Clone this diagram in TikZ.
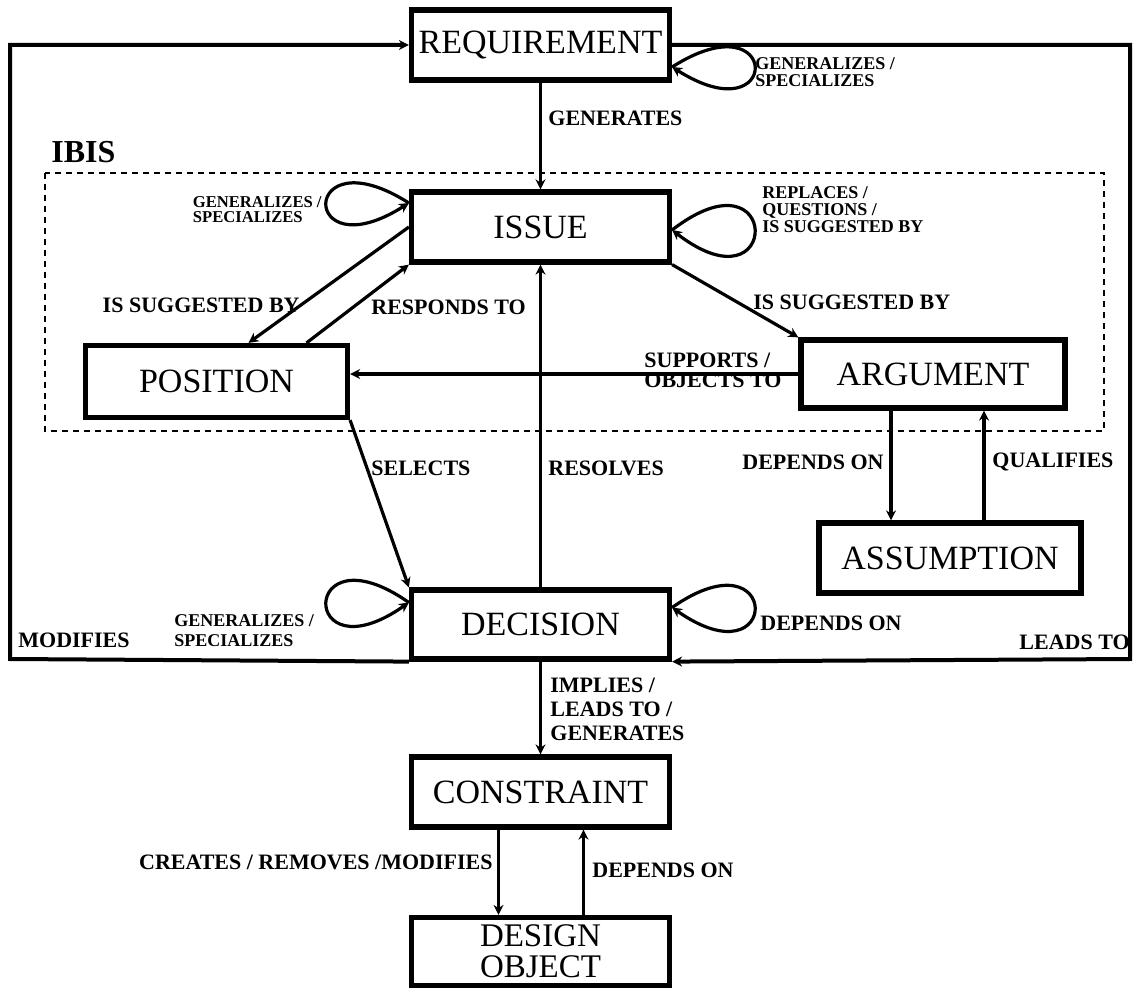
\documentclass[tikz,border=0pt]{standalone}
\usepackage{fontspec}
\setmainfont{Liberation Serif}
\usepackage{tikz}
\usetikzlibrary{arrows.meta,calc}
\tikzset{
  box/.style={draw,line width=2.6pt,minimum width=129pt,minimum height=35pt,inner sep=2pt,
    align=center,fill=white,font=\fontsize{17}{16}\selectfont},
  arr/.style={-{Stealth[length=5pt,width=5pt]},line width=1.6pt},
  lbl/.style={inner sep=0pt,align=left,font=\fontsize{11}{12}\selectfont\bfseries},
  lblsm/.style={inner sep=0pt,align=left,font=\fontsize{9}{8.5}\selectfont\bfseries},
  ibis/.style={line width=1.4pt,dash pattern=on 3pt off 2.5pt}
}

\begin{document}
\begin{tikzpicture}[x=0.5pt,y=-0.5pt]
  \useasboundingbox (0,0) rectangle (1135,989);
  \draw[ibis] (45,173) rectangle (1104,431);
  \node[lbl,anchor=west,font=\fontsize{16}{16}\selectfont\bfseries] (ibislbl) at (51,152) {IBIS};

  \node[box] (req) at (540.5,45) {REQUIREMENT};
  \node[box] (issue) at (540.5,227) {ISSUE};
  \node[box,minimum width=131pt,minimum height=36pt] (position) at (216.5,381.5) {POSITION};
  \node[box,minimum width=132pt,minimum height=34pt] (argument) at (933,374) {ARGUMENT};
  \node[box,minimum width=131pt] (assumption) at (950,558) {ASSUMPTION};
  \node[box,minimum height=34.5pt] (decision) at (540.5,624.5) {DECISION};
  \node[box] (constraint) at (540.5,792) {CONSTRAINT};
  \node[box,minimum height=34pt,inner sep=0.5pt,font=\fontsize{16.5}{15.5}\selectfont] (design) at (540.5,951.5) {DESIGN\\OBJECT};

  \coordinate (fl) at (10,659);
  \coordinate (fr) at (1130,659);
  \draw[arr,line width=2pt] (decision.south west) -- (fl) |- (req.west);
  \draw[arr,line width=2pt] (req.east) -| (fr) -- (decision.south east);

  \draw[arr] (req) -- (issue);
  \draw[arr] (issue.west) -- ([xshift=16pt]position.north);
  \draw[arr] ([xshift=45pt]position.north) -- (issue.south west);
  \draw[arr] (issue.south east) -- (argument.north west);
  \draw[arr] (argument.west) -- (argument.west -| position.east);
  \draw[arr] (position.south east) -- (decision.north west);
  \draw[arr] (decision) -- (issue);
  \draw[arr] ([xshift=-21pt]argument.south) -- ([xshift=-29.5pt]assumption.north);
  \draw[arr] ([xshift=17pt]assumption.north) -- ([xshift=25.5pt]argument.south);
  \draw[arr] (decision) -- (constraint);
  \draw[arr] ([xshift=-21pt]constraint.south) -- ([xshift=-21pt]design.north);
  \draw[arr] ([xshift=21.5pt]design.north) -- ([xshift=21.5pt]constraint.south);

  \draw[arr] ($(req.east)+(0,22)$) .. controls +(110,-70) and +(110,70) .. ($(req.east)+(0,22)$);
  \draw[arr] ($(issue.west)+(0,-24)$) .. controls +(-110,-70) and +(-110,70) .. ($(issue.west)+(0,-24)$);
  \draw[arr] ($(issue.east)+(0,3)$) .. controls +(110,-85) and +(110,85) .. ($(issue.east)+(0,3)$);
  \draw[arr] ($(decision.west)+(0,-22)$) .. controls +(-110,-77) and +(-110,77) .. ($(decision.west)+(0,-22)$);
  \draw[arr] ($(decision.east)+(0,-17)$) .. controls +(110,-77) and +(110,77) .. ($(decision.east)+(0,-17)$);

  \node[lblsm,anchor=west] (lreqloop) at (755,72) {GENERALIZES /\\SPECIALIZES};
  \node[lbl,anchor=west] (lgen) at (548,118) {GENERATES};
  \node[lblsm,anchor=east,font=\fontsize{8.3}{7.5}\selectfont\bfseries] (lissloop) at (322,210) {GENERALIZES /\\SPECIALIZES};
  \node[lblsm,anchor=west] (lrepl) at (762,210) {REPLACES /\\QUESTIONS /\\IS SUGGESTED BY};
  \node[lbl,anchor=east] (lsugg) at (300,305) {IS SUGGESTED BY};
  \node[lbl,anchor=west] (lresp) at (371,307) {RESPONDS TO};
  \node[lbl,anchor=west] (lsuggarg) at (753,302) {IS SUGGESTED BY};
  \node[lbl,anchor=west,font=\fontsize{11}{10}\selectfont\bfseries] (lsupp) at (644,370) {SUPPORTS /\\OBJECTS TO};
  \node[lbl,anchor=west] (lsel) at (371,468) {SELECTS};
  \node[lbl,anchor=west] (lres) at (548,468) {RESOLVES};
  \node[lbl,anchor=east] (ldep) at (884,462) {DEPENDS ON};
  \node[lbl,anchor=west] (lqual) at (992,462) {QUALIFIES};
  \node[lblsm,anchor=west,font=\fontsize{9}{10}\selectfont\bfseries] (ldecloop) at (174,631) {GENERALIZES /\\SPECIALIZES};
  \node[lbl,anchor=west] (lmod) at (18,640) {MODIFIES};
  \node[lbl,anchor=west] (ldepdec) at (760,623) {DEPENDS ON};
  \node[lbl,anchor=west] (lleads) at (1019,642) {LEADS TO};
  \node[lbl,anchor=west] (limpl) at (550,709) {IMPLIES /\\LEADS TO /\\GENERATES};
  \node[lbl,anchor=east] (lcreates) at (493,862) {CREATES / REMOVES /MODIFIES};
  \node[lbl,anchor=west] (ldepcon) at (592,870) {DEPENDS ON};
\end{tikzpicture}
\end{document}
